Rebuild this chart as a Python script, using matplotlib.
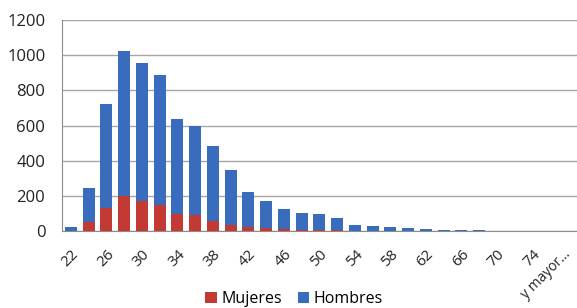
import numpy as np
import matplotlib
matplotlib.use('Agg')
import matplotlib.pyplot as plt
import matplotlib.transforms as mtransforms

# Datos
edades = ['22', '24', '26', '28', '30', '32', '34', '36', '38', '40', '42', '44',
          '46', '48', '50', '52', '54', '56', '58', '60', '62', '64', '66', '68',
          '70', '72', '74', '76', 'y mayor...']
totales = [25, 245, 720, 1025, 955, 889, 636, 598, 486, 346, 222, 173,
           127, 103, 97, 72, 36, 28, 23, 17, 11, 6, 5, 5,
           1, 0, 0, 0, 0]
mujeres = [0, 51, 131, 197, 169, 146, 95, 93, 55, 36, 23, 17,
           13, 8, 5, 3, 1, 1, 1, 0, 0, 0, 0, 0,
           0, 0, 0, 0, 0]
hombres = [t - m for t, m in zip(totales, mujeres)]

rojo = '#C23A33'
azul = '#3A6CBD'

plt.rcParams['font.family'] = ['Open Sans', 'DejaVu Sans']

fig = plt.figure(figsize=(5.77, 3.08), dpi=100)
ax = fig.add_axes([0.1075, 0.25, 0.892, 0.685])

x = np.arange(len(edades))
ax.bar(x, mujeres, width=0.68, color=rojo, label='Mujeres', zorder=3)
ax.bar(x, hombres, width=0.68, bottom=mujeres, color=azul, label='Hombres', zorder=3)

ax.set_xlim(-0.5, len(edades) - 0.5)
ax.set_ylim(0, 1200)
ax.set_yticks(range(0, 1201, 200))
ax.yaxis.grid(True, color='#a6a6a6', linewidth=1, zorder=0)

for s in ['top', 'right']:
    ax.spines[s].set_visible(False)
for s in ['left', 'bottom']:
    ax.spines[s].set_color('#8c8c8c')

ax.tick_params(axis='y', length=0, labelsize=12, pad=12, colors='#222222')
ax.tick_params(axis='x', length=0, labelsize=11, pad=15, colors='#222222')

pos = x[::2]
ax.set_xticks(pos)
ax.set_xticklabels([edades[i] for i in pos], rotation=45, ha='right',
                   va='center', rotation_mode='anchor')

# desplazar un poco las etiquetas hacia la derecha (la ultima no)
shift = mtransforms.ScaledTranslation(4 / 72, 0, fig.dpi_scale_trans)
labels = ax.get_xticklabels()
for lab in labels[:-1]:
    lab.set_transform(lab.get_transform() + shift)
labels[-1].set_fontsize(10)

fig.legend(loc='center', bbox_to_anchor=(0.51, 0.03), ncol=2, frameon=False,
           fontsize=11.5, handlelength=0.7, handleheight=0.7, handletextpad=0.3,
           columnspacing=1.0, borderaxespad=0)

fig.savefig('out.png', dpi=100, facecolor='white')
